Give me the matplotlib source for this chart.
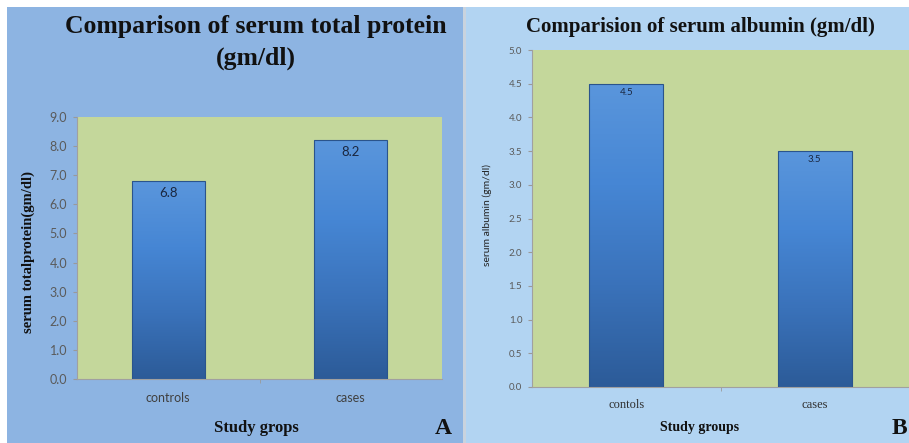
import numpy as np
import matplotlib
matplotlib.use("Agg")
import matplotlib.pyplot as plt
from matplotlib.patches import Rectangle
from matplotlib.colors import LinearSegmentedColormap

# ---- data ----
groups_a = ["controls", "cases"]
protein = [6.8, 8.2]
protein_ticks = [0.0, 1.0, 2.0, 3.0, 4.0, 5.0, 6.0, 7.0, 8.0, 9.0]

groups_b = ["contols", "cases"]
albumin = [4.5, 3.5]
albumin_ticks = [0.0, 0.5, 1.0, 1.5, 2.0, 2.5, 3.0, 3.5, 4.0, 4.5, 5.0]

SERIF = "Liberation Serif"
SANS = "Lato"
PLOT_BG = "#c4d79b"
TICK_GREY = "#5a5a5a"

bar_cmap = LinearSegmentedColormap.from_list(
    "barfill", ["#2c5b98", "#3a72ba", "#4686d4", "#5a96dc"])

fig = plt.figure(figsize=(9.09, 4.43), dpi=100)
fig.patch.set_facecolor("white")

# panel backgrounds
fig.add_artist(Rectangle((7 / 909, 0), (463 - 7) / 909, 1 - 7 / 443,
                         transform=fig.transFigure, facecolor="#8db4e2",
                         edgecolor="none", zorder=0))
fig.add_artist(Rectangle((463 / 909, 0), 3 / 909, 1 - 7 / 443,
                         transform=fig.transFigure, facecolor="#c9d3de",
                         edgecolor="none", zorder=0))
fig.add_artist(Rectangle((466 / 909, 0), 1 - 466 / 909, 1 - 7 / 443,
                         transform=fig.transFigure, facecolor="#b2d4f2",
                         edgecolor="none", zorder=0))


def gradient_bars(ax, bars):
    grad = np.linspace(0, 1, 256).reshape(-1, 1)
    for b in bars:
        x0, y0 = b.get_x(), b.get_y()
        w, h = b.get_width(), b.get_height()
        b.set_facecolor("none")
        im = ax.imshow(grad, cmap=bar_cmap, aspect="auto", origin="lower",
                       extent=(x0, x0 + w, y0, y0 + h), zorder=2,
                       interpolation="bilinear")
        im.set_clip_path(b)


def style_axes(ax, ticks, ymax, tick_size, xlab_font, xlab_size, xlab_color):
    ax.set_facecolor(PLOT_BG)
    ax.set_xlim(-0.5, 1.5)
    ax.set_ylim(0, ymax)
    ax.set_yticks(ticks)
    ax.set_yticklabels([f"{t:.1f}" for t in ticks], fontfamily=SANS,
                       fontsize=tick_size, color=TICK_GREY)
    ax.tick_params(axis="y", length=3, color="#9a9a9a", pad=4)
    ax.set_xticks([0.5], minor=True)
    ax.tick_params(axis="x", which="minor", length=3, color="#9a9a9a")
    ax.tick_params(axis="x", which="major", length=0, pad=9)
    for lbl in ax.get_xticklabels():
        lbl.set_fontfamily(xlab_font)
        lbl.set_fontsize(xlab_size)
        lbl.set_color(xlab_color)
    for s in ["top", "right"]:
        ax.spines[s].set_visible(False)
    for s in ["left", "bottom"]:
        ax.spines[s].set_color("#a0a0a0")
        ax.spines[s].set_linewidth(0.8)


# ---- panel A: serum total protein ----
axA = fig.add_axes([77 / 909, 1 - 379 / 443, (442 - 77) / 909, (379 - 117) / 443])
barsA = axA.bar(range(len(groups_a)), protein, width=0.4,
                edgecolor="#2a548c", linewidth=0.8, zorder=3)
axA.set_xticks(range(len(groups_a)))
axA.set_xticklabels(groups_a)
style_axes(axA, protein_ticks, 9.0, 9, SANS, 9, "#404040")
gradient_bars(axA, barsA)
for i, v in enumerate(protein):
    axA.text(i, v - 0.2, f"{v:.1f}", ha="center", va="top",
             fontfamily=SANS, fontsize=9.5, color="#1a2740", zorder=4)

fig.text(256 / 909, 1 - 27 / 443, "Comparison of serum total protein",
         ha="center", va="center", fontfamily=SERIF, fontweight="bold",
         fontsize=18.5, color="#111111")
fig.text(256 / 909, 1 - 58 / 443, "(gm/dl)", ha="center", va="center",
         fontfamily=SERIF, fontweight="bold", fontsize=18.5, color="#111111")
fig.text(28 / 909, 1 - 252 / 443, "serum totalprotein(gm/dl)", rotation=90,
         ha="center", va="center", fontfamily=SERIF, fontweight="bold",
         fontsize=10.5, color="#111111")
fig.text(256 / 909, 1 - 428 / 443, "Study grops", ha="center", va="center",
         fontfamily=SERIF, fontweight="bold", fontsize=12, color="#111111")
fig.text(443 / 909, 1 - 429 / 443, "A", ha="center", va="center",
         fontfamily=SERIF, fontweight="bold", fontsize=17, color="#111111")

# ---- panel B: serum albumin ----
axB = fig.add_axes([532 / 909, 1 - 387 / 443, (909 - 532) / 909, (387 - 50) / 443])
barsB = axB.bar(range(len(groups_b)), albumin, width=0.39,
                edgecolor="#2a548c", linewidth=0.8, zorder=3)
axB.set_xticks(range(len(groups_b)))
axB.set_xticklabels(groups_b)
style_axes(axB, albumin_ticks, 5.0, 7, SERIF, 9, "#303030")
gradient_bars(axB, barsB)
for i, v in enumerate(albumin):
    axB.text(i, v - 0.06, f"{v:.1f}", ha="center", va="top",
             fontfamily=SANS, fontsize=7, color="#1a2740", zorder=4)

fig.text(700 / 909, 1 - 27 / 443, "Comparision of serum albumin (gm/dl)",
         ha="center", va="center", fontfamily=SERIF, fontweight="bold",
         fontsize=15, color="#111111")
fig.text(487 / 909, 1 - 215 / 443, "serum albumin (gm/dl)", rotation=90,
         ha="center", va="center", fontfamily=SANS, fontsize=7.5,
         color="#222222")
fig.text(700 / 909, 1 - 428 / 443, "Study groups", ha="center", va="center",
         fontfamily=SERIF, fontweight="bold", fontsize=10, color="#111111")
fig.text(899 / 909, 1 - 429 / 443, "B", ha="center", va="center",
         fontfamily=SERIF, fontweight="bold", fontsize=17, color="#111111")

fig.savefig("out.png", dpi=100)
